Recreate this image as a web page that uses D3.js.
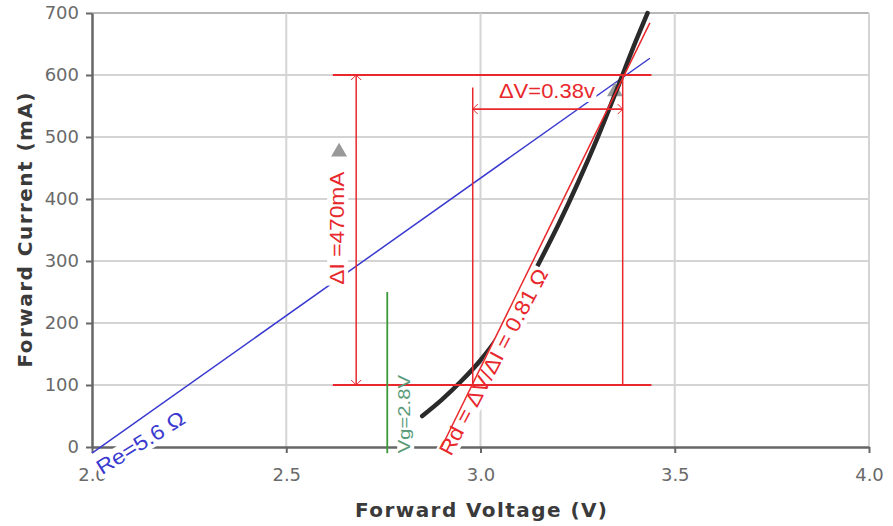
<!DOCTYPE html>
<html>
<head>
<meta charset="utf-8">
<script src="https://cdn.jsdelivr.net/npm/d3@7"></script>
<style>
  body { margin: 0; background: #fff; }
  svg { display: block; }
</style>
</head>
<body>
<div id="chart"></div>
<script>
// axis ticks
const xTicks = [2.0, 2.5, 3.0, 3.5, 4.0]
const yTicks = [0, 100, 200, 300, 400, 500, 600, 700]

// LED forward curve (V, mA)
const ledVoltage = [2.85, 2.90, 2.95, 3.00, 3.05, 3.10, 3.15, 3.20, 3.25, 3.30, 3.35, 3.40, 3.43]
const ledCurrent = [50, 76, 106, 140, 182, 236, 296, 358, 425, 497, 575, 655, 700]

// straight construction lines, [V, mA] end points
const reLine = [[2.0, -10], [3.436, 627]]
const rdLine = [[2.9, 0], [3.436, 684]]
const vgLine = [[2.76, -10], [2.76, 250]]

// delta construction
const levelCurrents = [100, 600]
const levelSpan = [2.62, 3.44]
const deltaIVoltage = 2.68
const deltaVVoltages = [2.98, 3.366]
const deltaVCurrent = 545
const deltaVTop = 580

// grey markers
const markerVoltage = [2.636, 3.346]
const markerCurrent = [476, 573]

// labels
const labelDeltaV = "\u0394V=0.38v"
const labelDeltaI = "\u0394I =470mA"
const labelRd = "Rd = \u0394V/\u0394I = 0.81 \u03a9"
const labelRe = "Re=5.6 \u03a9"
const labelVg = "Vg=2.8V"

const W = 893, H = 526
const red = "#e8282c", blue = "#3a3ad0", green = "#3a9a3a"

const svg = d3.select("#chart").append("svg")
    .attr("width", W).attr("height", H)

const x = d3.scaleLinear().domain([2, 4]).range([92, 869])
const y = d3.scaleLinear().domain([0, 700]).range([447, 13])

// grid
const grid = svg.append("g")
grid.selectAll(".hg").data(yTicks.filter(d => d > 0)).enter().append("line")
    .attr("x1", x(2)).attr("x2", x(4))
    .attr("y1", d => y(d)).attr("y2", d => y(d))
    .attr("stroke", d => d === 700 ? "#b8b8b8" : "#d4d4d4").attr("stroke-width", 2)
grid.selectAll(".vg").data(xTicks.filter(d => d > 2)).enter().append("line")
    .attr("x1", d => x(d)).attr("x2", d => x(d))
    .attr("y1", y(0)).attr("y2", y(700))
    .attr("stroke", "#d4d4d4").attr("stroke-width", 2)

// axes
svg.append("g")
    .attr("transform", "translate(" + x(2) + ",0)")
    .call(d3.axisLeft(y).tickValues(yTicks).tickSize(6).tickSizeOuter(0).tickPadding(7))
svg.append("g")
    .attr("transform", "translate(0," + y(0) + ")")
    .call(d3.axisBottom(x).tickValues(xTicks).tickSize(6).tickSizeOuter(0).tickPadding(15)
        .tickFormat(d3.format(".1f")))
svg.selectAll(".domain").attr("stroke", "#666").attr("stroke-width", 2.5)
svg.selectAll(".tick line").attr("stroke", "#666").attr("stroke-width", 2)
svg.selectAll(".tick text")
    .attr("fill", "#6a6a6a")
    .style("font-family", "'DejaVu Sans', Verdana, sans-serif")
    .style("font-size", "18px")

// axis titles
svg.append("text")
    .attr("x", 481).attr("y", 517)
    .attr("text-anchor", "middle")
    .attr("textLength", 252).attr("lengthAdjust", "spacing")
    .style("font-family", "'DejaVu Sans', Verdana, sans-serif")
    .style("font-weight", "bold").style("font-size", "20px")
    .attr("fill", "#3a3a3a")
    .text("Forward Voltage (V)")
svg.append("text")
    .attr("transform", "translate(32," + 230 + ") rotate(-90)")
    .attr("text-anchor", "middle")
    .attr("textLength", 275).attr("lengthAdjust", "spacing")
    .style("font-family", "'DejaVu Sans', Verdana, sans-serif")
    .style("font-weight", "bold").style("font-size", "20px")
    .attr("fill", "#3a3a3a")
    .text("Forward Current (mA)")

const line = d3.line().x(d => x(d[0])).y(d => y(d[1]))

// Re line (below label backgrounds)
svg.append("path").attr("d", line(reLine))
    .attr("stroke", blue).attr("stroke-width", 1.5).attr("fill", "none")

// markers
svg.append("g").selectAll("path")
    .data(markerVoltage.map((v, i) => [v, markerCurrent[i]]))
    .enter().append("path")
    .attr("d", d3.symbol().type(d3.symbolTriangle).size(110))
    .attr("transform", d => "translate(" + x(d[0]) + "," + y(d[1]) + ")")
    .attr("fill", "#999")

// LED curve
const ledPoints = ledVoltage.map((v, i) => [v, ledCurrent[i]])
svg.append("path")
    .attr("d", d3.line().x(d => x(d[0])).y(d => y(d[1])).curve(d3.curveMonotoneX)(ledPoints))
    .attr("stroke", "#2a2a2a").attr("stroke-width", 4.5).attr("fill", "none")
    .attr("stroke-linecap", "round")

// labels: background layer, later text layer
const bgLayer = svg.append("g")
const markLayer = svg.append("g")
const textLayer = svg.append("g")

const labels = [
    { text: labelDeltaV, x: x(3.171), y: y(563), angle: 0, size: 21, len: 96, color: red },
    { text: labelDeltaI, x: x(2.649), y: y(353), angle: -90, size: 21, len: 113, color: red },
    { text: labelRd, x: x(3.05), y: y(132), angle: -62, size: 21, len: 208, color: red },
    { text: labelRe, x: x(2.135), y: y(-3), angle: -32, size: 21, len: 100, color: blue },
    { text: labelVg, x: x(2.819), y: y(53), angle: -90, size: 17, len: 78, color: "#5a9a7a" }
]

labels.forEach(l => {
    const t = textLayer.append("text")
        .attr("transform", "translate(" + l.x + "," + l.y + ") rotate(" + l.angle + ")")
        .attr("text-anchor", "middle")
        .attr("textLength", l.len).attr("lengthAdjust", "spacingAndGlyphs")
        .style("font-family", "'Liberation Sans', Arial, sans-serif")
        .style("font-size", l.size + "px")
        .attr("fill", l.color)
        .text(l.text)
    const b = t.node().getBBox()
    bgLayer.append("rect")
        .attr("transform", "translate(" + l.x + "," + l.y + ") rotate(" + l.angle + ")")
        .attr("x", b.x - 1).attr("y", b.y + 2)
        .attr("width", b.width + 2).attr("height", b.height - 2)
        .attr("fill", "#fff")
})

// red construction lines
levelCurrents.forEach(c => {
    markLayer.append("path").attr("d", line([[levelSpan[0], c], [levelSpan[1], c]]))
        .attr("stroke", red).attr("stroke-width", 1.8).attr("fill", "none")
})
markLayer.append("path").attr("d", line([[deltaIVoltage, levelCurrents[1]], [deltaIVoltage, levelCurrents[0]]]))
    .attr("stroke", red).attr("stroke-width", 1.5).attr("fill", "none")
markLayer.append("path").attr("d", line([[deltaVVoltages[0], deltaVTop], [deltaVVoltages[0], levelCurrents[0]]]))
    .attr("stroke", red).attr("stroke-width", 1.5).attr("fill", "none")
markLayer.append("path").attr("d", line([[deltaVVoltages[1], levelCurrents[1]], [deltaVVoltages[1], levelCurrents[0]]]))
    .attr("stroke", red).attr("stroke-width", 1.5).attr("fill", "none")
markLayer.append("path").attr("d", line([[deltaVVoltages[0], deltaVCurrent], [deltaVVoltages[1], deltaVCurrent]]))
    .attr("stroke", red).attr("stroke-width", 1.8).attr("fill", "none")

// little arrow heads
const head = (px, py, dir) => {
    // dir: "up", "down", "left", "right"
    const s = 5
    let d
    if (dir === "up") d = [[px - s, py + s], [px, py], [px + s, py + s]]
    if (dir === "down") d = [[px - s, py - s], [px, py], [px + s, py - s]]
    if (dir === "left") d = [[px + s, py - s], [px, py], [px + s, py + s]]
    if (dir === "right") d = [[px - s, py - s], [px, py], [px - s, py + s]]
    markLayer.append("path").attr("d", d3.line()(d))
        .attr("stroke", red).attr("stroke-width", 1).attr("fill", "none")
}
head(x(deltaIVoltage), y(levelCurrents[1]), "up")
head(x(deltaIVoltage), y(levelCurrents[0]), "down")
head(x(deltaVVoltages[0]), y(deltaVCurrent), "left")
head(x(deltaVVoltages[1]), y(deltaVCurrent), "right")

// Rd line
markLayer.append("path").attr("d", line(rdLine))
    .attr("stroke", red).attr("stroke-width", 1.5).attr("fill", "none")

// Vg line
markLayer.append("path").attr("d", line(vgLine))
    .attr("stroke", green).attr("stroke-width", 1.8).attr("fill", "none")

textLayer.raise()
</script>
</body>
</html>
